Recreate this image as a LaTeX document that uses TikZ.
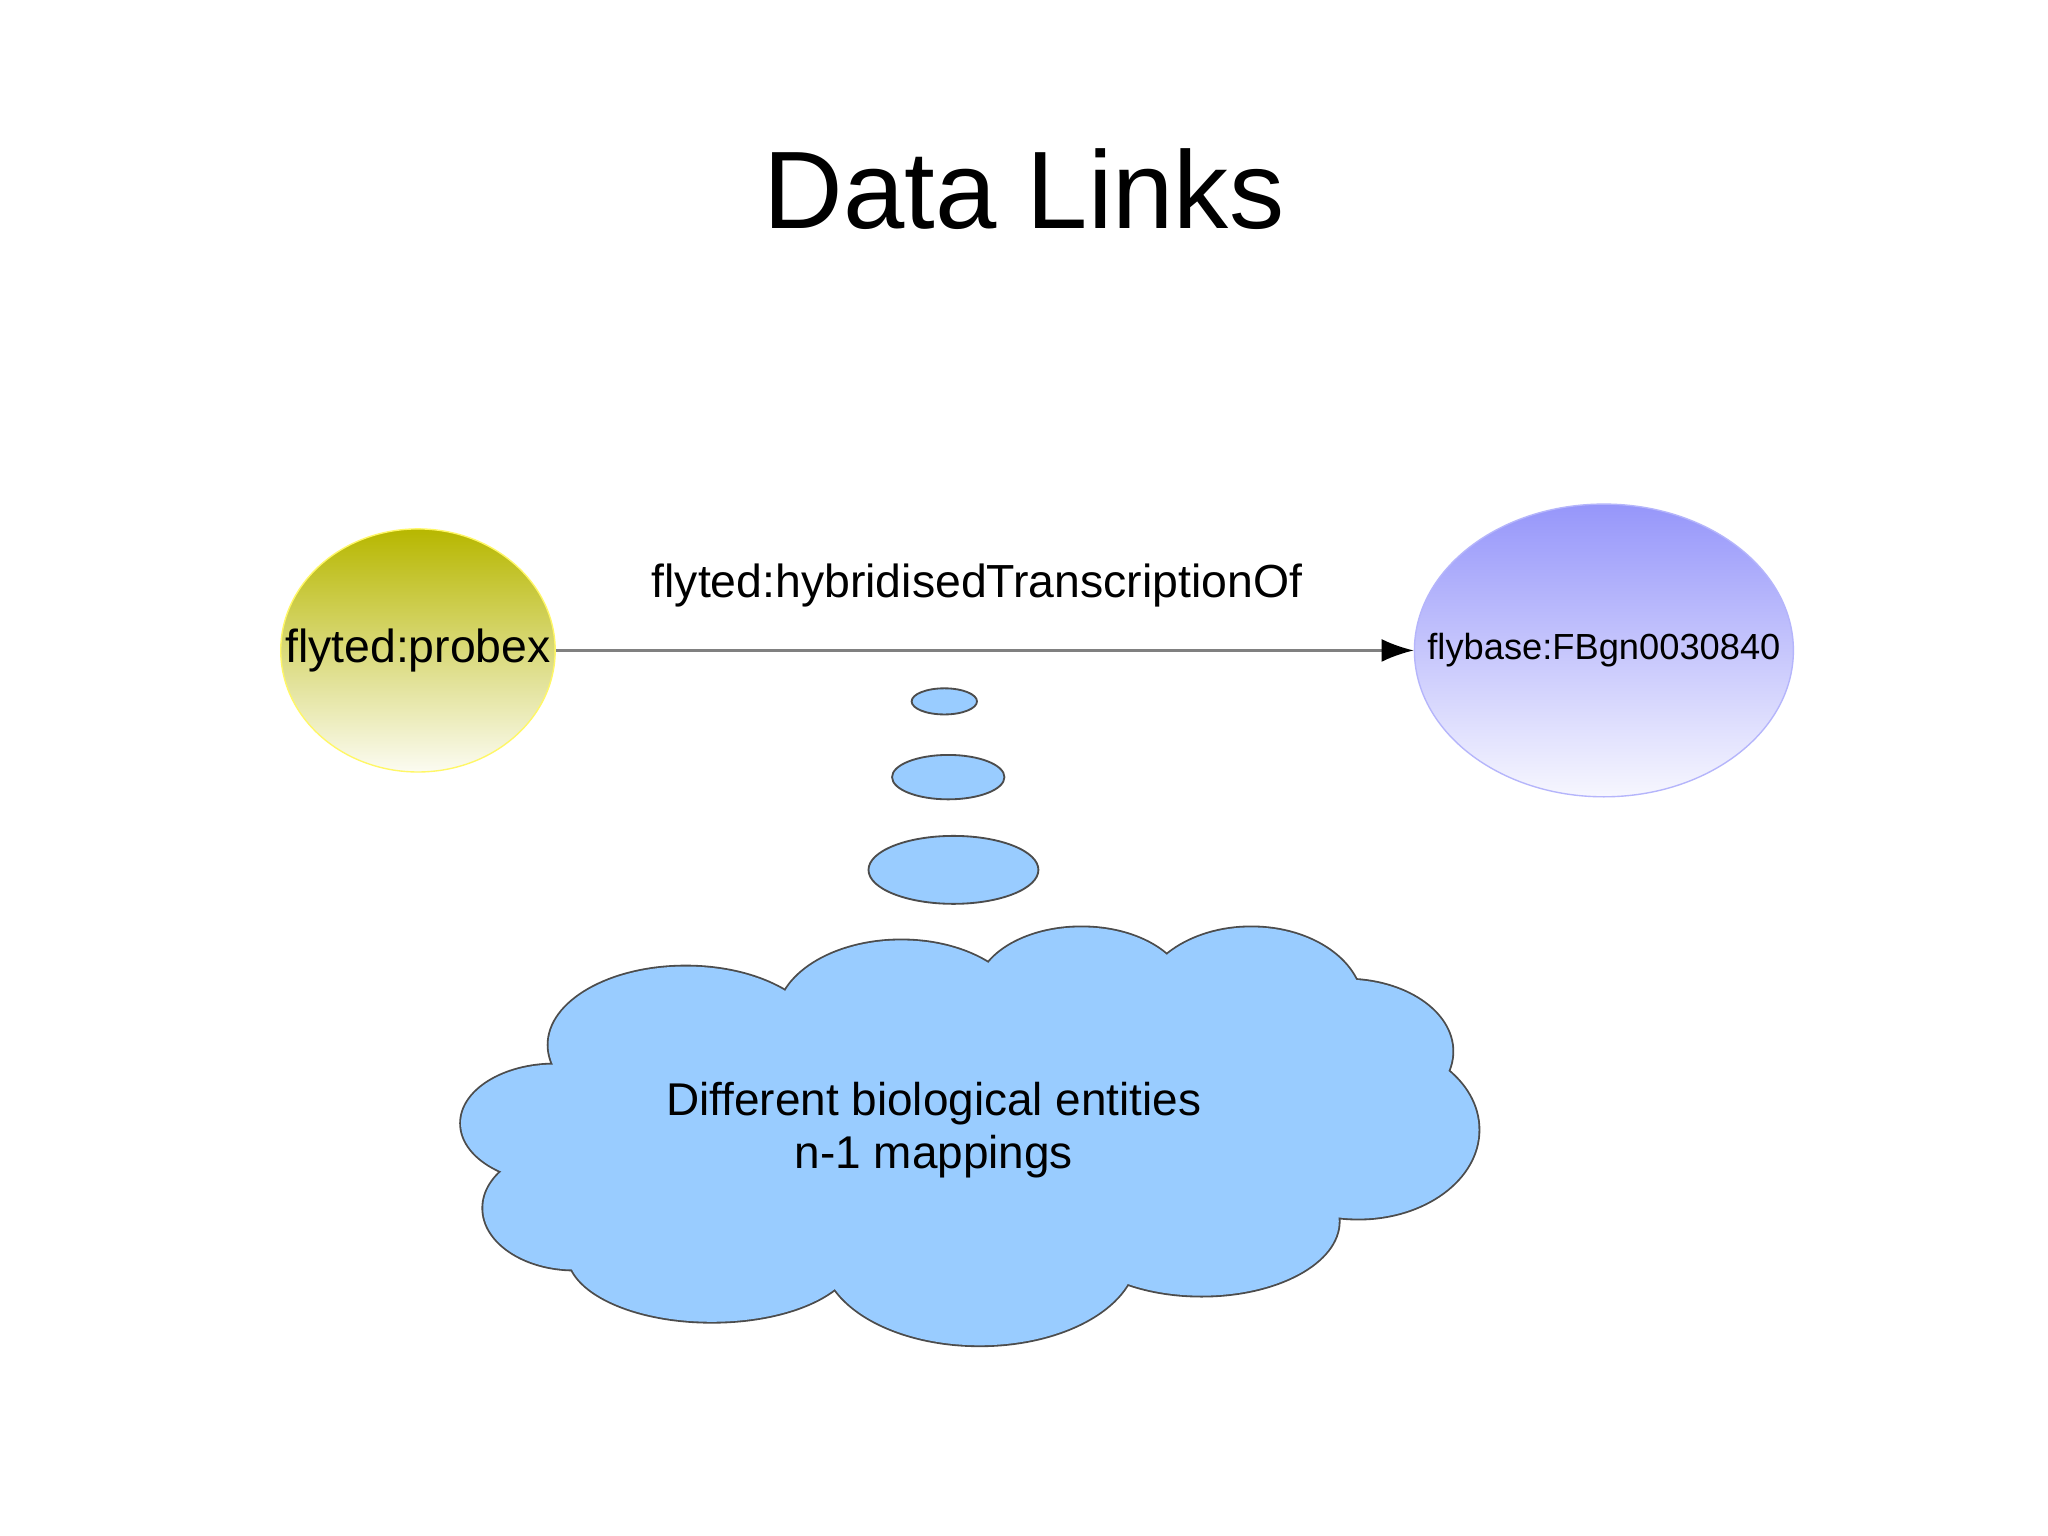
\documentclass[tikz,border=0pt]{standalone}
\usepackage{fontspec}
\setmainfont{Liberation Sans}
\usetikzlibrary{shapes.geometric,arrows.meta}
\definecolor{bub}{RGB}{153,204,255}
\definecolor{olv}{RGB}{183,183,0}
\definecolor{vio}{RGB}{150,150,250}
\tikzset{
  bubble/.style={ellipse,fill=bub,draw=black!70,line width=0.4pt,inner sep=0pt},
  lbl/.style={font=\fontsize{10.1}{12}\selectfont},
}
\begin{document}
\begin{tikzpicture}[x=0.01cm,y=-0.01cm]
\useasboundingbox[fill=white] (0,0) rectangle (1568,1176);
\node[font=\fontsize{24}{28}\selectfont] (title) at (784,145) {Data Links};
\node[ellipse,minimum width=2.1cm,minimum height=1.86cm,top color=olv,bottom color=olv!5,draw=yellow!60,line width=0.3pt,inner sep=0pt] (a) at (320,498) {};
\node[lbl] at (a.center) {flyted:probex};
\node[ellipse,minimum width=2.9cm,minimum height=2.24cm,top color=vio,bottom color=vio!8,draw=vio!70,line width=0.3pt,inner sep=0pt] (b) at (1228,498) {};
\node[font=\fontsize{7.9}{10}\selectfont] at (b.center) {flybase:FBgn0030840};
\draw[gray,line width=0.5pt,-{Latex[black,length=7pt,width=5pt]}] (a.east) -- (b.west);
\node[lbl] (rel) at (748,448) {flyted:hybridisedTranscriptionOf};
\node[bubble,minimum width=0.5cm,minimum height=0.2cm] (t1) at (723,537) {};
\node[bubble,minimum width=0.86cm,minimum height=0.34cm] (t2) at (726,595) {};
\node[bubble,minimum width=1.3cm,minimum height=0.52cm] (t3) at (730,666) {};
% cloud
\def\lobes{525/800/105/60,690/780/95/60,828/760/80/50,958/770/85/60,1030/805/82/55,1040/865/92/68,920/935/105/57,750/960/120/70,545/960/110/52,440/925/70/47,425/860/72/45}
\foreach \x/\y/\a/\b in \lobes {\draw[black!70,line width=0.8pt] (\x,\y) ellipse [x radius=\a,y radius=\b];}
\foreach \x/\y/\a/\b in \lobes {\fill[bub] (\x,\y) ellipse [x radius=\a,y radius=\b];}
\fill[bub] (730,870) ellipse [x radius=290,y radius=100];
\node[align=center,font=\fontsize{10}{11.6}\selectfont] (cloud) at (715,865) {Different biological entities\\n-1 mappings};
\end{tikzpicture}
\end{document}
